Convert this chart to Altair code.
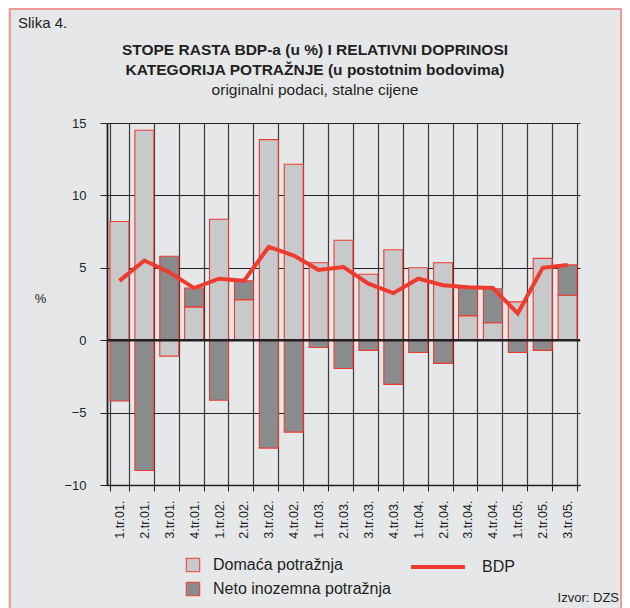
import altair as alt
import pandas as pd

quarters = ["1.tr.01.", "2.tr.01.", "3.tr.01.", "4.tr.01.", "1.tr.02.", "2.tr.02.",
            "3.tr.02.", "4.tr.02.", "1.tr.03.", "2.tr.03.", "3.tr.03.", "4.tr.03.",
            "1.tr.04.", "2.tr.04.", "3.tr.04.", "4.tr.04.", "1.tr.05.", "2.tr.05.", "3.tr.05."]
domestic = [8.2, 14.5, -1.1, 2.3, 8.35, 2.8, 13.85, 12.15, 5.35, 6.9, 4.55, 6.25,
            5.0, 5.35, 1.7, 1.2, 2.65, 5.65, 3.1]
net_foreign = [-4.2, -9.0, 5.8, 1.3, -4.15, 1.3, -7.45, -6.35, -0.5, -1.95, -0.7, -3.05,
               -0.85, -1.6, 1.9, 2.35, -0.85, -0.7, 2.1]
gdp = [4.1, 5.5, 4.7, 3.6, 4.25, 4.1, 6.45, 5.85, 4.85, 5.05, 3.9, 3.25,
       4.25, 3.8, 3.65, 3.6, 1.85, 5.0, 5.2]
series_names = ["Domaća potražnja", "Neto inozemna potražnja"]
line_name = "BDP"
title_lines = ["STOPE RASTA BDP-a (u %) I RELATIVNI DOPRINOSI",
               "KATEGORIJA POTRAŽNJE (u postotnim bodovima)"]
subtitle_text = "originalni podaci, stalne cijene"

FONT = "Liberation Sans"
INK = "#231f20"
RED = "#ee3b30"

bars_df = pd.DataFrame({
    "q": quarters * 2,
    "v": domestic + net_foreign,
    "s": [series_names[0]] * len(quarters) + [series_names[1]] * len(quarters),
    "o": [0] * len(quarters) + [1] * len(quarters),
})
line_df = pd.DataFrame({"q": quarters, "v": gdp, "s": [line_name] * len(quarters)})

x_enc = alt.X(
    "q:N", sort=quarters,
    scale=alt.Scale(paddingInner=0.24, paddingOuter=0.12),
    axis=alt.Axis(title=None, labelAngle=-90, labelFontSize=12.5, labelFont=FONT,
                  labelColor=INK, tickBand="extent", grid=True, gridColor="#3a3a3a",
                  gridWidth=1.2, tickColor=INK, tickSize=6, labelPadding=9,
                  domainColor=INK, domainWidth=1.5),
)
y_scale = alt.Scale(domain=[-10, 15], nice=False)
y_axis = alt.Axis(values=[-10, -5, 0, 5, 10, 15], title="%", titleAngle=0,
                  titleX=-67, titleY=182, titleFont=FONT, titleFontSize=13,
                  titleFontWeight="normal", titleColor=INK,
                  labelFont=FONT, labelFontSize=13, labelColor=INK, labelPadding=14,
                  tickSize=7, tickColor=INK, grid=True, gridColor=INK, gridWidth=1.2,
                  domainColor=INK, domainWidth=1.8)

bars = alt.Chart(bars_df).mark_bar(stroke=RED, strokeWidth=1.1).encode(
    x=x_enc,
    y=alt.Y("v:Q", stack="zero", scale=y_scale, axis=y_axis),
    fill=alt.Fill("s:N", scale=alt.Scale(domain=series_names, range=["#c8c9cb", "#8a8b8d"]),
                  legend=alt.Legend(title=None, orient="none", legendX=78, legendY=434,
                                    symbolType="square", symbolSize=180,
                                    symbolStrokeColor=RED, symbolStrokeWidth=1,
                                    labelFont=FONT, labelFontSize=16, labelColor=INK,
                                    labelOffset=12, rowPadding=6, padding=0,
                                    labelLimit=400)),
    order=alt.Order("o:Q"),
)

zero = alt.Chart(pd.DataFrame({"y": [0]})).mark_rule(color=INK, strokeWidth=2.5).encode(
    y=alt.Y("y:Q", scale=y_scale)
)

line = alt.Chart(line_df).mark_line(strokeWidth=4).encode(
    x=alt.X("q:N", sort=quarters),
    y=alt.Y("v:Q", scale=y_scale),
    stroke=alt.Stroke("s:N", scale=alt.Scale(domain=[line_name], range=[RED]),
                      legend=alt.Legend(title=None, orient="none", legendX=302, legendY=415,
                                        symbolType="stroke", symbolSize=2900,
                                        symbolStrokeWidth=4, labelFont=FONT,
                                        labelFontSize=16, labelColor=INK,
                                        labelOffset=15, padding=0, labelLimit=200)),
)

one = pd.DataFrame({"t": ["Slika 4."]})
slika = alt.Chart(one).mark_text(font=FONT, fontSize=15, color=INK, align="left",
                                 baseline="middle").encode(
    text="t:N", x=alt.value(-89), y=alt.value(-100))
t1 = alt.Chart(pd.DataFrame({"t": [title_lines[0]]})).mark_text(
    font=FONT, fontSize=15.5, fontWeight="bold", color=INK, align="center",
    baseline="middle").encode(text="t:N", x=alt.value(208), y=alt.value(-73))
t2 = alt.Chart(pd.DataFrame({"t": [title_lines[1]]})).mark_text(
    font=FONT, fontSize=15.5, fontWeight="bold", color=INK, align="center",
    baseline="middle").encode(text="t:N", x=alt.value(208), y=alt.value(-53))
t3 = alt.Chart(pd.DataFrame({"t": [subtitle_text]})).mark_text(
    font=FONT, fontSize=15.5, color=INK, align="center",
    baseline="middle").encode(text="t:N", x=alt.value(208), y=alt.value(-33))
izvor = alt.Chart(pd.DataFrame({"t": ["Izvor: DZS"]})).mark_text(
    font=FONT, fontSize=13, color=INK, align="right", baseline="middle").encode(
    text="t:N", x=alt.value(512), y=alt.value(475))
frame = alt.Chart(one).mark_rect(fillOpacity=0, stroke="#f0857b", strokeWidth=1.5).encode(
    x=alt.value(-97), x2=alt.value(514), y=alt.value(-114), y2=alt.value(520))

chart = alt.layer(frame, bars, zero, line, slika, t1, t2, t3, izvor).properties(
    width=473, height=362,
    autosize=alt.AutoSizeParams(type="none"),
    padding={"left": 99, "top": 115, "right": 42, "bottom": 123},
).configure(background="#e6e7e9").configure_view(strokeWidth=0)

chart.save("out.html", embed_options={"renderer": "svg", "actions": False})
